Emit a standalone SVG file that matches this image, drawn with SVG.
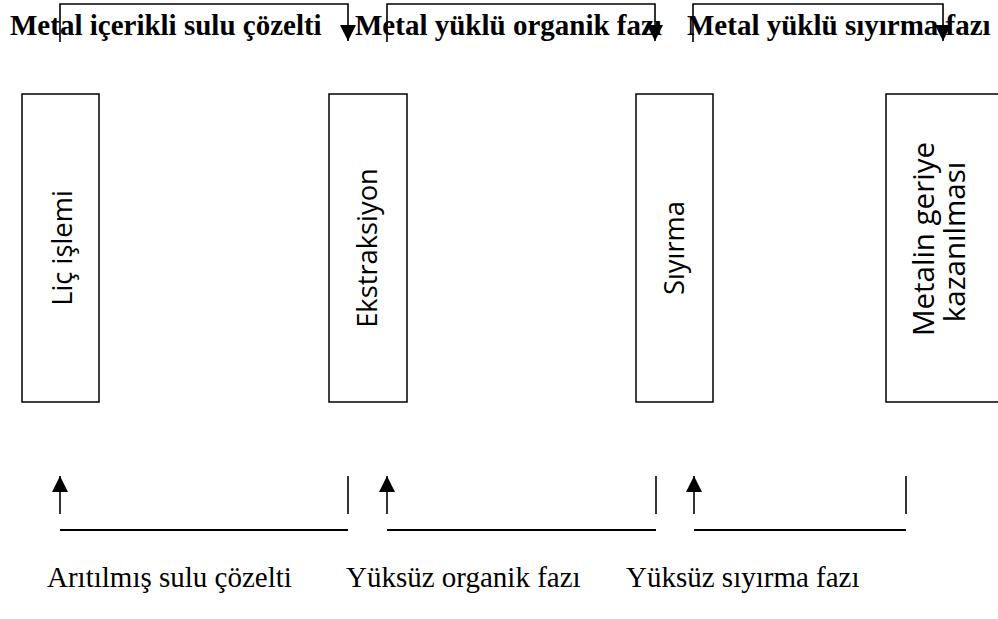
<svg xmlns="http://www.w3.org/2000/svg" width="998" height="619" viewBox="0 0 998 619">
<style>
.box{fill:#fff;stroke:#000;stroke-width:1.5}
.bt{font-family:"Open Sans","Noto Sans",sans-serif;font-size:27.3px;text-anchor:middle;fill:#000}
.bt4{font-size:29.5px}
.tl{font-family:"Liberation Serif","Times New Roman",serif;font-size:29px;font-weight:bold;fill:#000}
.bl{font-family:"Liberation Serif","Times New Roman",serif;font-size:29px;fill:#000}
.c{fill:none;stroke:#000;stroke-width:1.6}
.h{fill:none;stroke:#000;stroke-width:2.2}
</style>
<defs>
<marker id="ah" markerUnits="userSpaceOnUse" markerWidth="16" markerHeight="16" refX="14" refY="7" orient="auto" viewBox="0 0 14 14">
<path d="M0,0 L14,7 L0,14 Z" fill="#000"/>
</marker>
</defs>
<g id="labels-top">
<text class="tl" x="10" y="35">Metal içerikli sulu çözelti</text>
<text class="tl" x="355" y="35">Metal yüklü organik fazı</text>
<text class="tl" x="687" y="35">Metal yüklü sıyırma fazı</text>
</g>
<g id="n1">
<rect class="box" x="22" y="94" width="77" height="308"/>
<text class="bt" transform="translate(72,248) rotate(-90)">Liç işlemi</text>
</g>
<g id="n2">
<rect class="box" x="329" y="94" width="78" height="308"/>
<text class="bt" transform="translate(377,248) rotate(-90)">Ekstraksiyon</text>
</g>
<g id="n3">
<rect class="box" x="636" y="94" width="77" height="308"/>
<text class="bt" transform="translate(684,248) rotate(-90)">Sıyırma</text>
</g>
<g id="n4">
<rect class="box" x="886" y="94" width="130" height="308"/>
<text class="bt bt4" transform="translate(934,239) rotate(-90)">Metalin geriye</text>
<text class="bt bt4" transform="translate(965,242) rotate(-90)">kazanılması</text>
</g>
<g id="connectors">
<path class="c" d="M60,42 V4 H348 V41" marker-end="url(#ah)"/>
<path class="c" d="M387,42 V4 H655 V41" marker-end="url(#ah)"/>
<path class="c" d="M693,42 V4 H943 V41" marker-end="url(#ah)"/>
<path class="c" d="M60,514 V476" marker-end="url(#ah)"/>
<path class="c" d="M387,514 V476" marker-end="url(#ah)"/>
<path class="c" d="M694,514 V476" marker-end="url(#ah)"/>
<path class="c" d="M348,476 V514"/>
<path class="c" d="M656,476 V514"/>
<path class="c" d="M906,476 V514"/>
<path class="h" d="M60,530 H348"/>
<path class="h" d="M387,530 H656"/>
<path class="h" d="M694,530 H906"/>
</g>
<g id="labels-bottom">
<text class="bl" x="47" y="587">Arıtılmış sulu çözelti</text>
<text class="bl" x="346" y="587">Yüksüz organik fazı</text>
<text class="bl" x="626" y="587">Yüksüz sıyırma fazı</text>
</g>
</svg>
